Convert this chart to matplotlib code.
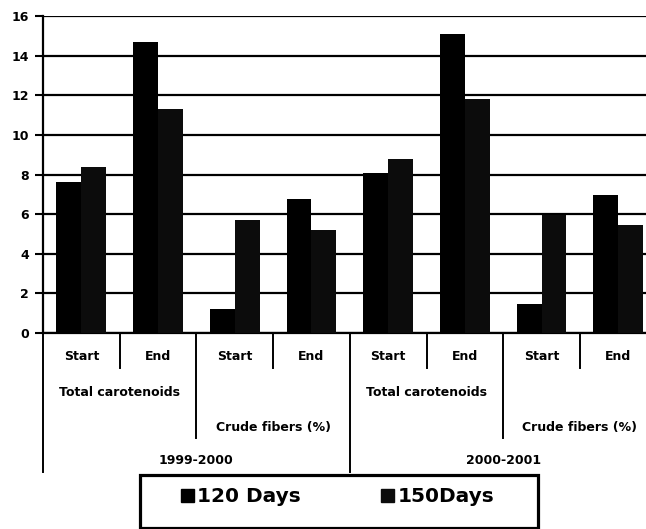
import matplotlib
matplotlib.use("Agg")
import matplotlib.pyplot as plt
import matplotlib.transforms as mtransforms
from matplotlib.patches import Patch, Rectangle
from matplotlib.lines import Line2D

plt.rcParams['font.family'] = ['DejaVu Sans']

# Data: two seasons, two traits, start/end measurement
stages = ["Start", "End", "Start", "End", "Start", "End", "Start", "End"]
traits = ["Total carotenoids", "Crude fibers (%)",
          "Total carotenoids", "Crude fibers (%)"]
seasons = ["1999-2000", "2000-2001"]
series_names = ["120 Days", "150Days"]
days_120 = [7.6, 14.7, 1.2, 6.75, 8.1, 15.1, 1.45, 6.95]
days_150 = [8.4, 11.3, 5.7, 5.2, 8.8, 11.8, 5.95, 5.45]
yticks = [0, 2, 4, 6, 8, 10, 12, 14, 16]

W, H = 646, 529
fig = plt.figure(figsize=(W / 100, H / 100), dpi=100)
fig.patch.set_facecolor("white")

ax_left, ax_bottom, ax_top = 43, 333, 16
cat_px = 76.7
ax_h_px = ax_bottom - ax_top
ax = fig.add_axes([ax_left / W, 1 - ax_bottom / H, 8 * cat_px / W, ax_h_px / H])

n = len(stages)
x = list(range(n))
bw = 0.325
colors = ["#000000", "#0c0c0c"]
ax.bar([i - bw / 2 for i in x], days_120, width=bw, color=colors[0], zorder=3)
ax.bar([i + bw / 2 for i in x], days_150, width=bw, color=colors[1], zorder=3)

ax.set_xlim(-0.5, n - 0.5)
ax.set_ylim(0, 16)
ax.set_yticks(yticks)
ax.set_yticklabels([str(v) for v in yticks], fontsize=9, fontweight="bold")
ax.tick_params(axis="y", length=6, width=1.5, pad=4, color="black")
ax.set_xticks([])
ax.yaxis.grid(True, color="black", linewidth=1.6, zorder=1)
ax.set_axisbelow(True)
for side in ["top", "right"]:
    ax.spines[side].set_visible(False)
ax.spines["left"].set_linewidth(1.6)
ax.spines["bottom"].set_linewidth(1.6)

# Hierarchical category axis below the plot
trans = mtransforms.blended_transform_factory(ax.transData, ax.transAxes)


def below(px):
    return -px / ax_h_px


sep_depth = {-0.5: 139, 0.5: 35, 1.5: 105, 2.5: 35, 3.5: 139,
             4.5: 35, 5.5: 105, 6.5: 35, 7.5: 139}
for xs, d in sep_depth.items():
    ax.add_line(Line2D([xs, xs], [0, below(d)], transform=trans,
                       color="black", linewidth=1.4, clip_on=False))

label_kw = dict(transform=trans, ha="center", va="center",
                fontsize=9, fontweight="bold")
for i, lab in enumerate(stages):
    ax.text(i, below(23), lab, **label_kw)

for j, lab in enumerate(traits):
    depth = 59 if lab.startswith("Total") else 94
    ax.text(2 * j + 0.5, below(depth), lab, **label_kw)

for k, lab in enumerate(seasons):
    ax.text(4 * k + 1.5, below(127), lab, **label_kw)

# Legend with a heavy box
handles = [Patch(facecolor=c, edgecolor=c) for c in colors]
fig.legend(handles, series_names, loc="center",
           bbox_to_anchor=(337.5 / W, 1 - 497 / H), ncol=2, frameon=False,
           prop={"size": 14.5, "weight": "bold"}, handlelength=0.65,
           handleheight=0.65, handletextpad=0.15, columnspacing=4.0)
fig.add_artist(Rectangle((140 / W, 1 - 528 / H), 398 / W, 53 / H,
                         transform=fig.transFigure, fill=False,
                         edgecolor="black", linewidth=2.3))

fig.savefig("out.png", dpi=100)
